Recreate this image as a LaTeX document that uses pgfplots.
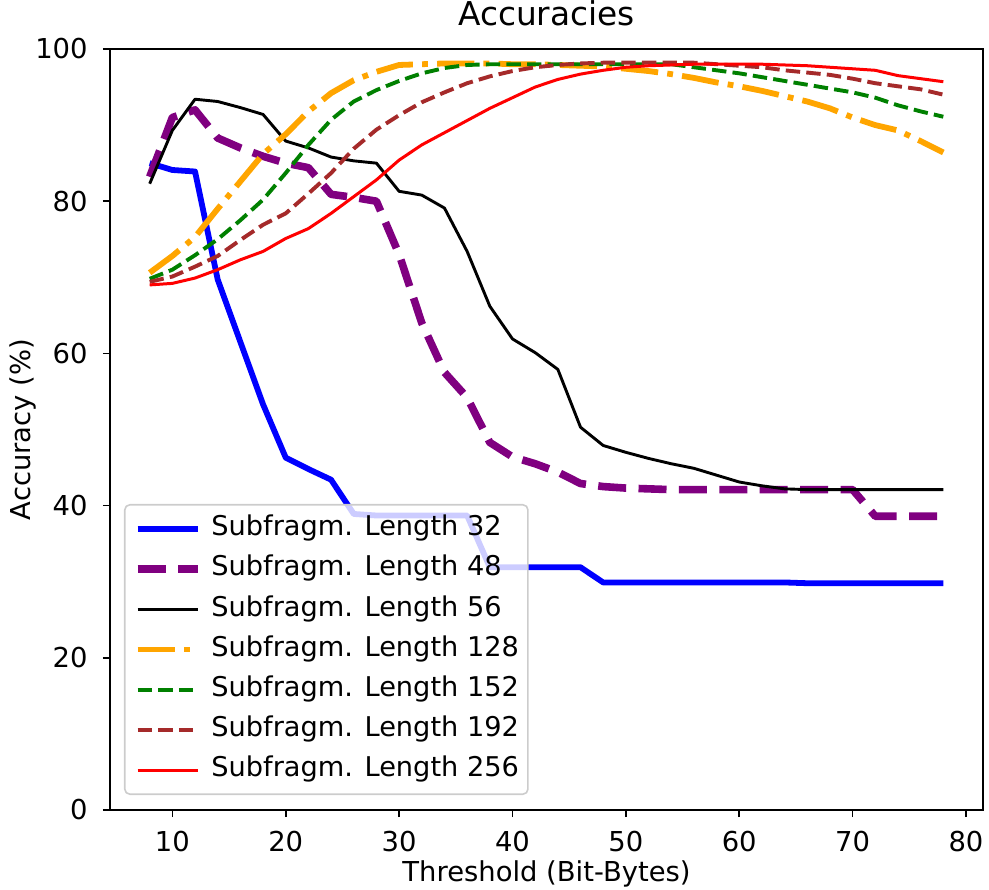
\documentclass[border=0pt]{standalone}
\usepackage{fontspec}
\setmainfont{DejaVu Sans}
\usepackage{pgfplots}
\usepackage{pgfplotstable}
\pgfplotsset{compat=1.18}

\definecolor{mplorange}{RGB}{255,165,0}
\definecolor{mplgreen}{RGB}{0,128,0}
\definecolor{mplbrown}{RGB}{165,42,42}
\definecolor{mplpurple}{RGB}{128,0,128}

\pgfplotstableread{
x  s32  s48  s56  s128 s152 s192 s256
8  85.0 83.2 82.3 70.6 69.8 69.4 69.0
10 84.1 91.0 89.3 72.8 71.0 70.1 69.2
12 83.9 92.0 93.4 75.3 72.9 71.4 69.9
14 69.7 88.3 93.1 79.0 75.0 72.8 71.0
16 61.5 87.0 92.3 82.6 77.5 74.9 72.3
18 53.3 85.9 91.4 86.2 80.2 76.9 73.4
20 46.3 85.0 87.9 88.8 83.7 78.4 75.1
22 44.8 84.4 87.0 91.8 87.4 81.0 76.4
24 43.4 80.9 85.8 94.2 90.7 83.7 78.4
26 38.9 80.5 85.3 95.9 93.1 86.9 80.6
28 38.7 80.0 85.0 97.0 94.6 89.4 82.8
30 38.7 73.0 81.3 97.9 95.8 91.3 85.4
32 38.7 64.0 80.8 98.0 96.8 93.0 87.4
34 38.7 57.5 79.1 98.1 97.5 94.3 89.0
36 38.7 54.2 73.4 98.1 97.9 95.5 90.6
38 31.9 48.3 66.2 98.1 98.0 96.4 92.2
40 31.9 46.4 61.9 98.0 98.0 97.1 93.6
42 31.9 45.5 60.1 98.0 98.0 97.6 95.0
44 31.9 44.4 57.9 97.9 98.0 97.9 96.0
46 31.9 42.9 50.3 97.8 98.0 98.1 96.7
48 29.9 42.5 47.9 97.7 98.0 98.2 97.2
50 29.9 42.3 47.0 97.4 98.0 98.2 97.6
52 29.9 42.2 46.2 97.1 98.0 98.2 97.8
54 29.9 42.1 45.5 96.7 98.0 98.2 97.9
56 29.9 42.1 44.9 96.2 97.6 98.2 98.0
58 29.9 42.1 44.0 95.6 97.2 98.0 98.0
60 29.9 42.1 43.1 95.1 96.8 97.8 98.0
62 29.9 42.1 42.6 94.5 96.3 97.6 98.0
64 29.9 42.1 42.2 93.8 95.8 97.2 97.9
66 29.8 42.1 42.1 93.1 95.3 96.9 97.8
68 29.8 42.1 42.1 92.2 94.8 96.6 97.6
70 29.8 42.1 42.1 91.0 94.3 96.1 97.4
72 29.8 38.6 42.1 90.0 93.6 95.5 97.2
74 29.8 38.6 42.1 89.3 92.6 95.1 96.5
76 29.8 38.6 42.1 87.9 91.8 94.7 96.1
78 29.8 38.6 42.1 86.4 91.1 94.0 95.7
}\datatable

\begin{document}
\begin{tikzpicture}
\begin{axis}[
  name=ax,
  scale only axis,
  width=436.5pt, height=380.5pt,
  xmin=4.5, xmax=81.5, ymin=0, ymax=100,
  xtick={10,20,...,80},
  ytick={0,20,...,100},
  xtick pos=bottom, ytick pos=left,
  tick align=outside,
  major tick length=3.5pt,
  every tick/.style={black, line width=0.8pt},
  axis line style={line width=0.8pt, black},
  /pgf/number format/assume math mode=true,
  ticklabel style={font=\fontsize{13.7}{16}\selectfont},
  xticklabel style={inner sep=0pt, anchor=north, yshift=-7pt},
  yticklabel style={inner sep=0pt, anchor=east, xshift=-7.5pt},
  title={Accuracies},
  title style={font=\fontsize{16.4}{19}\selectfont, at={(axis description cs:0.5,1.0154)}, anchor=base, inner sep=0pt},
  xlabel={Threshold (Bit-Bytes)},
  ylabel={Accuracy (\%)},
  xlabel style={font=\fontsize{13.7}{16}\selectfont, at={(axis description cs:0.5,-0.0935)}, anchor=base, inner sep=0pt},
  ylabel style={font=\fontsize{13.7}{16}\selectfont, at={(axis description cs:-0.0915,0.5)}, anchor=base, inner sep=0pt},
  legend cell align=left,
  legend image code/.code={\draw[#1] (0pt,0pt) -- (30pt,0pt);},
  legend style={
    at={(axis description cs:0,0)}, anchor=south west,
    xshift=7pt, yshift=7.5pt,
    font=\fontsize{13.6}{16}\selectfont,
    fill=white, fill opacity=0.8, draw opacity=1, text opacity=1,
    draw=black!20, line width=0.8pt, rounded corners=2.5pt,
    inner xsep=4.5pt, inner ysep=5.5pt,
    row sep=7pt, column sep=5pt,
    nodes={inner sep=0pt, text height=9.9pt, text depth=3.2pt},
  },
]
\addplot[color=blue, line width=2.9pt, line join=round] table[x=x, y=s32] {\datatable};
\addlegendentry{Subfragm. Length 32}
\addplot[color=mplpurple, line width=3.8pt, line join=round, dash pattern=on 14pt off 6.2pt] table[x=x, y=s48] {\datatable};
\addlegendentry{Subfragm. Length 48}
\addplot[color=black, line width=1.45pt, line join=round] table[x=x, y=s56] {\datatable};
\addlegendentry{Subfragm. Length 56}
\addplot[color=mplorange, line width=2.9pt, line join=round, dash pattern=on 18.6pt off 4.6pt on 2.9pt off 4.6pt] table[x=x, y=s128] {\datatable};
\addlegendentry{Subfragm. Length 128}
\addplot[color=mplgreen, line width=1.95pt, line join=round, dash pattern=on 7.2pt off 3.1pt] table[x=x, y=s152] {\datatable};
\addlegendentry{Subfragm. Length 152}
\addplot[color=mplbrown, line width=1.95pt, line join=round, dash pattern=on 7.2pt off 3.1pt] table[x=x, y=s192] {\datatable};
\addlegendentry{Subfragm. Length 192}
\addplot[color=red, line width=1.5pt, line join=round] table[x=x, y=s256] {\datatable};
\addlegendentry{Subfragm. Length 256}
\end{axis}
\pgfresetboundingbox
\path ([xshift=-55pt,yshift=-39.5pt]ax.south west) rectangle ([xshift=3pt,yshift=24.5pt]ax.north east);
\end{tikzpicture}
\end{document}
